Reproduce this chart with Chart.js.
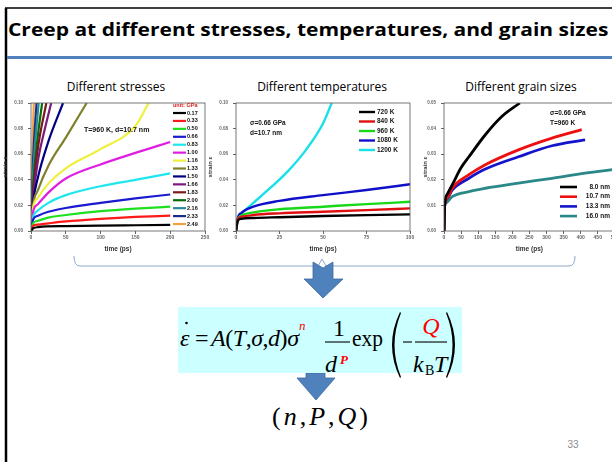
<!DOCTYPE html>
<html lang="en">
<head>
<meta charset="UTF-8" />
<title>Creep at different stresses, temperatures, and grain sizes</title>
<script src="https://cdn.jsdelivr.net/npm/chart.js"></script>
<style>
  html, body { margin: 0; padding: 0; background: #fff; }
  body { width: 612px; height: 462px; position: relative; overflow: hidden; }
  svg.slide { position: absolute; left: 0; top: 0; }
  canvas { position: absolute; }
  #c1 { left: 0; top: 95px; }
  #c2 { left: 205px; top: 95px; }
  #c3 { left: 420px; top: 95px; }
  .txt { position: absolute; white-space: nowrap; line-height: 1; color: #000; }
  #title { left: 8px; top: 18px; font: 700 17px "Open Sans", Lato, sans-serif; transform-origin: 0 0; }
  .sub { top: 78px; font: 400 12px "Open Sans", Lato, sans-serif; transform: translateX(-50%); }
</style>
</head>
<body>
<svg class="slide" width="612" height="462" xmlns="http://www.w3.org/2000/svg">
  <!-- slide frame -->
  <line x1="5" y1="8" x2="612" y2="8" stroke="#000" stroke-width="1.5"/>
  <line x1="6" y1="8" x2="6" y2="462" stroke="#000" stroke-width="2.5"/>
  <line x1="7" y1="57.5" x2="612" y2="57.5" stroke="#4F81BD" stroke-width="3"/>

  <!-- brace under the three plots -->
  <path d="M74,256 Q74,266 80,266 L318,266 L322,259 L326,266 L569,266 Q575,266 575,256"
        fill="none" stroke="#8EA8CC" stroke-width="1"/>

  <!-- arrows -->
  <polygon points="313,262 323,268 333,262 333,279 343,279 323,298 304,279 313,279"
           fill="#4F81BD" stroke="#3A6BA5" stroke-width="0.8"/>
  <polygon points="306,373 325,373 325,378 335,378 316,400 297,378 306,378"
           fill="#4F81BD" stroke="#3A6BA5" stroke-width="0.8"/>

  <!-- creep law -->
  <rect x="178" y="307" width="284" height="66" fill="#CCFFFF"/>
  <g font-family="'Liberation Serif', 'Times New Roman', serif" font-size="24" fill="#000">
    <text x="180" y="346" font-style="italic">ε</text>
    <circle cx="186.5" cy="323" r="1.3"/>
    <text x="195" y="346">=</text>
    <text x="211" y="346" textLength="88" lengthAdjust="spacing"><tspan font-style="italic">A</tspan>(<tspan font-style="italic">T</tspan>,<tspan font-style="italic">σ</tspan>,<tspan font-style="italic">d</tspan>)<tspan font-style="italic">σ</tspan></text>
    <text x="299" y="330" font-size="13" font-style="italic" fill="#f00">n</text>
    <text x="339" y="336" text-anchor="middle">1</text>
    <line x1="325" y1="342" x2="350" y2="342" stroke="#000" stroke-width="1.1"/>
    <text x="325" y="372" font-style="italic">d</text>
    <text x="340" y="364" font-size="13" font-style="italic" font-weight="bold" fill="#f00">P</text>
    <text x="352" y="346" textLength="31" lengthAdjust="spacingAndGlyphs">exp</text>
    <path d="M400,312 Q384,345 400,378 L401,377 Q388,345 401,313 Z"/>
    <line x1="403" y1="342" x2="412" y2="342" stroke="#000" stroke-width="1.1"/>
    <text x="431" y="334" text-anchor="middle" font-style="italic" fill="#f00">Q</text>
    <line x1="415" y1="342" x2="447" y2="342" stroke="#000" stroke-width="1.1"/>
    <text x="413" y="372" font-style="italic">k</text>
    <text x="425" y="375" font-size="14">B</text>
    <text x="434" y="372" font-style="italic">T</text>
    <path d="M447,312 Q463,345 447,378 L446,377 Q459,345 446,313 Z"/>
  </g>
  <text x="272" y="425" font-family="'Liberation Serif', 'Times New Roman', serif" font-size="26"
        textLength="96" lengthAdjust="spacing">(<tspan font-style="italic">n</tspan>,<tspan font-style="italic">P</tspan>,<tspan font-style="italic">Q</tspan>)</text>

  <text x="573" y="448" font-family="'Liberation Sans', Arial, sans-serif" font-size="10"
        fill="#8c8c8c" text-anchor="middle">33</text>
</svg>

<div id="title" class="txt">Creep at different stresses, temperatures, and grain sizes</div>
<div class="txt sub" style="left:116px">Different stresses</div>
<div class="txt sub" style="left:322px">Different temperatures</div>
<div class="txt sub" style="left:521px">Different grain sizes</div>

<canvas id="c1" width="212" height="162" style="width:212px;height:162px"></canvas>
<canvas id="c2" width="212" height="162" style="width:212px;height:162px"></canvas>
<canvas id="c3" width="200" height="162" style="width:200px;height:162px"></canvas>

<script>
  // ---- different stresses (T=960 K, d=10.7 nm), [time ps, strain] ----
  const stressLabels = ["0.17", "0.33", "0.50", "0.66", "0.83", "1.00", "1.16", "1.33",
                        "1.50", "1.66", "1.83", "2.00", "2.16", "2.33", "2.49"];
  const stressColors = ["#000000", "#ff1a1a", "#1ee01e", "#1a1ad0", "#1ee6ee", "#e01ee0", "#f0f03c", "#7f7f2a",
                        "#000080", "#7a1a7a", "#7a1a1a", "#0a6a0a", "#2a8a9a", "#1a2a8a", "#f0a040"];
  const stressCurves = [
    [[0, 0], [3, 0.002], [10, 0.003], [50, 0.0038], [100, 0.0042], [150, 0.0045], [200, 0.0048]],
    [[0, 0], [3, 0.004], [10, 0.005], [25, 0.006], [50, 0.0075], [100, 0.0095], [150, 0.011], [200, 0.012]],
    [[0, 0], [3, 0.006], [10, 0.008], [25, 0.0105], [50, 0.0125], [100, 0.0155], [150, 0.0175], [200, 0.019]],
    [[0, 0], [3, 0.009], [10, 0.012], [25, 0.015], [50, 0.018], [100, 0.022], [150, 0.0255], [200, 0.0285]],
    [[0, 0], [3, 0.011], [10, 0.016], [25, 0.022], [50, 0.028], [100, 0.035], [150, 0.040], [200, 0.045]],
    [[0, 0], [3, 0.015], [10, 0.021], [25, 0.030], [50, 0.041], [100, 0.052], [150, 0.061], [200, 0.0695]],
    [[0, 0], [3, 0.018], [10, 0.026], [25, 0.037], [50, 0.049], [100, 0.064], [150, 0.082], [169, 0.10]],
    [[0, 0], [3, 0.020], [10, 0.032], [25, 0.051], [50, 0.073], [80, 0.10]],
    [[0, 0], [3, 0.022], [10, 0.042], [25, 0.070], [46, 0.10]],
    [[0, 0], [3, 0.025], [10, 0.055], [20, 0.080], [29, 0.10]],
    [[0, 0], [3, 0.030], [10, 0.065], [22, 0.10]],
    [[0, 0], [3, 0.035], [10, 0.075], [16, 0.10]],
    [[0, 0], [3, 0.045], [11, 0.10]],
    [[0, 0], [3, 0.055], [8, 0.10]],
    [[0, 0], [2, 0.060], [4, 0.10]]
  ];

  // ---- different temperatures (0.66 GPa, d=10.7 nm) ----
  const tempLabels = ["720 K", "840 K", "960 K", "1080 K", "1200 K"];
  const tempColors = ["#000000", "#e01010", "#18d818", "#1010c8", "#18e0e8"];
  const tempCurves = [
    [[0, 0], [1, 0.008], [3, 0.0095], [10, 0.0102], [25, 0.0108], [50, 0.0117], [75, 0.0124], [100, 0.013]],
    [[0, 0], [1, 0.009], [3, 0.011], [10, 0.0125], [25, 0.0138], [50, 0.015], [75, 0.0163], [100, 0.0177]],
    [[0, 0], [1, 0.009], [3, 0.012], [10, 0.0145], [25, 0.017], [50, 0.019], [75, 0.021], [100, 0.0228]],
    [[0, 0], [1, 0.010], [3, 0.014], [10, 0.019], [25, 0.0235], [50, 0.028], [75, 0.032], [100, 0.0365]],
    [[0, 0], [1, 0.009], [3, 0.013], [5, 0.016], [10, 0.022], [20, 0.034], [30, 0.047], [40, 0.063], [50, 0.084], [55, 0.10]]
  ];

  // ---- different grain sizes (0.66 GPa, T=960 K) ----
  const grainLabels = ["8.0 nm", "10.7 nm", "13.3 nm", "16.0 nm"];
  const grainColors = ["#000000", "#ee1010", "#1414cc", "#2a8888"];
  const grainCurves = [
    [[0, 0], [2, 0.010], [10, 0.0145], [24, 0.018], [49, 0.0245], [73, 0.029], [121, 0.0376], [170, 0.0448], [222, 0.05]],
    [[0, 0], [2, 0.010], [10, 0.013], [24, 0.0167], [73, 0.022], [121, 0.0259], [218, 0.0317], [316, 0.0363], [403, 0.0396]],
    [[0, 0], [2, 0.010], [10, 0.0128], [24, 0.016], [73, 0.0206], [121, 0.0242], [218, 0.029], [316, 0.0333], [413, 0.0356]],
    [[0, 0], [2, 0.010], [5, 0.0108], [24, 0.0134], [73, 0.0154], [121, 0.0167], [218, 0.0187], [316, 0.0206], [413, 0.0226], [500, 0.0241]]
  ];

  // stretch the title to the slide width, as in the original layout
  const title = document.getElementById('title');
  title.style.transform = 'scaleX(' + (600 / title.offsetWidth) + ')';

  const small = { family: '"Liberation Sans", Arial, sans-serif', weight: 'bold' };

  // frame around the plot area, legend and notes drawn inside it
  const boxPlugin = {
    id: 'box',
    afterDatasetsDraw(chart, args, opts) {
      const { ctx, chartArea: a } = chart;
      ctx.save();
      ctx.strokeStyle = '#555';
      ctx.lineWidth = 0.8;
      ctx.strokeRect(a.left, a.top, a.right - a.left, a.bottom - a.top);

      const lg = opts.legend;
      ctx.font = 'bold ' + lg.size + 'px "Liberation Sans", Arial, sans-serif';
      ctx.textBaseline = 'middle';
      if (lg.header) {
        ctx.fillStyle = '#e02020';
        ctx.textAlign = 'left';
        ctx.fillText(lg.header, lg.x, lg.y - lg.dy);
      }
      chart.data.datasets.forEach((ds, i) => {
        const y = lg.y + i * lg.dy;
        ctx.strokeStyle = ds.borderColor;
        ctx.lineWidth = lg.lw;
        ctx.beginPath();
        ctx.moveTo(lg.x, y);
        ctx.lineTo(lg.x + lg.len, y);
        ctx.stroke();
        ctx.fillStyle = '#111';
        ctx.textAlign = lg.align;
        ctx.fillText(ds.label, lg.tx, y);
      });

      ctx.textAlign = 'left';
      ctx.fillStyle = '#111';
      opts.notes.forEach(n => {
        ctx.font = 'bold ' + n.size + 'px "Liberation Sans", Arial, sans-serif';
        ctx.fillText(n.text, n.x, n.y);
      });
      ctx.restore();
    }
  };

  function makeChart(id, curves, labels, colors, cfg) {
    return new Chart(document.getElementById(id), {
      type: 'line',
      data: {
        datasets: curves.map((c, i) => ({
          label: labels[i],
          data: c,
          borderColor: colors[i],
          borderWidth: cfg.lw,
          pointRadius: 0,
          cubicInterpolationMode: 'monotone',
          fill: false
        }))
      },
      options: {
        responsive: false,
        animation: false,
        layout: { padding: { top: 8, right: cfg.padRight, left: 0, bottom: 0 } },
        plugins: {
          legend: { display: false },
          tooltip: { enabled: false },
          box: { legend: cfg.legend, notes: cfg.notes }
        },
        scales: {
          x: {
            type: 'linear', min: cfg.xMin, max: cfg.xMax,
            ticks: { stepSize: cfg.xStep, autoSkip: false, maxRotation: 0, padding: 1,
                     font: { ...small, size: 5 }, color: '#666' },
            grid: { drawOnChartArea: false, tickLength: 3, color: '#666' },
            border: { display: false },
            title: { display: true, text: 'time (ps)', color: '#333',
                     font: { ...small, size: 6.5 }, padding: { top: 0, bottom: 4 } },
            afterFit: s => { s.height = 26; }
          },
          y: {
            min: 0, max: cfg.yMax,
            ticks: { stepSize: cfg.yStep, autoSkip: false, padding: 5, color: '#666',
                     font: { ...small, size: 4.5 }, callback: v => v.toFixed(2) },
            grid: { drawOnChartArea: false, tickLength: 3, color: '#666' },
            border: { display: false },
            title: { display: true, text: 'strain ε', color: '#333',
                     font: { ...small, size: 6 }, padding: { top: 2, bottom: 0 } },
            afterFit: s => { s.width = cfg.yWidth; }
          }
        }
      },
      plugins: [boxPlugin]
    });
  }

  makeChart('c1', stressCurves, stressLabels, stressColors, {
    lw: 2.2, padRight: 7, yWidth: 31, xMin: 0, xMax: 250, xStep: 50, yMax: 0.10, yStep: 0.02,
    legend: { header: 'unit: GPa', x: 173, y: 18, dy: 7.93, len: 13, lw: 2.2, tx: 187, align: 'left', size: 5.5 },
    notes: [{ text: 'T=960 K, d=10.7 nm', x: 84, y: 35, size: 7 }]
  });

  makeChart('c2', tempCurves, tempLabels, tempColors, {
    lw: 2.4, padRight: 7, yWidth: 31, xMin: 0, xMax: 100, xStep: 25, yMax: 0.10, yStep: 0.02,
    legend: { x: 154, y: 17, dy: 9.5, len: 16, lw: 2.4, tx: 172, align: 'left', size: 6.5 },
    notes: [{ text: 'σ=0.66 GPa', x: 45, y: 28, size: 6.5 }, { text: 'd=10.7 nm', x: 45, y: 38, size: 6.5 }]
  });

  makeChart('c3', grainCurves, grainLabels, grainColors, {
    lw: 2.8, padRight: 4, yWidth: 24, xMin: 0, xMax: 500, xStep: 50, yMax: 0.05, yStep: 0.01,
    legend: { x: 140, y: 92, dy: 9.7, len: 17, lw: 2.6, tx: 190, align: 'right', size: 6.5 },
    notes: [{ text: 'σ=0.66 GPa', x: 130, y: 18, size: 6.5 }, { text: 'T=960 K', x: 130, y: 28, size: 6.5 }]
  });
</script>
</body>
</html>
